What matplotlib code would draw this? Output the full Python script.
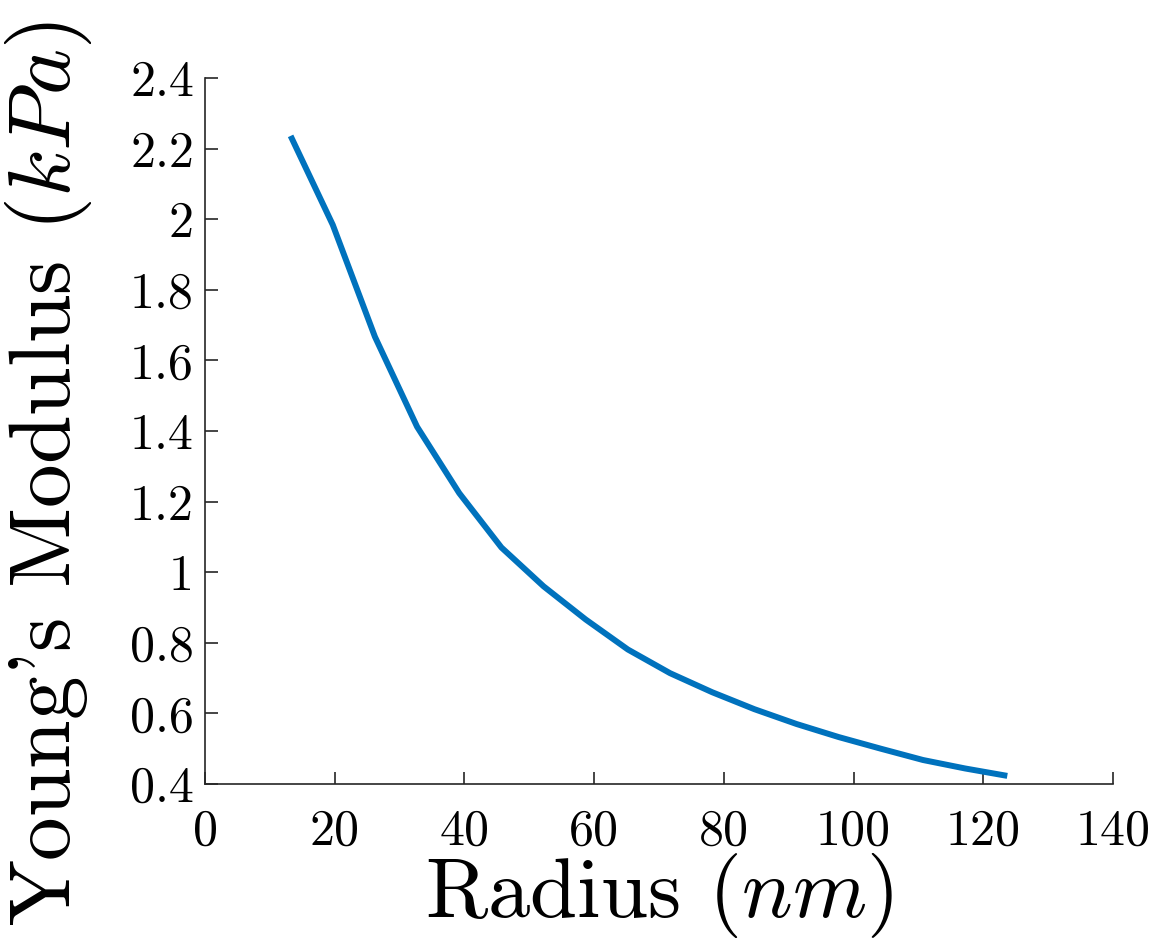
import numpy as np
import matplotlib
matplotlib.use("Agg")
from matplotlib import pyplot as plt
from matplotlib.ticker import FuncFormatter

# radius (nm) and Young's modulus (kPa)
radius = [13.2, 19.7, 26.2, 32.7, 39.2, 45.7, 52.2, 58.7, 65.2, 71.7,
          78.2, 84.7, 91.2, 97.7, 104.2, 110.7, 117.2, 123.7]
modulus = [2.236, 1.984, 1.667, 1.412, 1.224, 1.07, 0.96, 0.866, 0.781, 0.714,
           0.66, 0.612, 0.57, 0.533, 0.5, 0.468, 0.444, 0.423]

x_ticks = [0, 20, 40, 60, 80, 100, 120, 140]
y_ticks = [0.4, 0.6, 0.8, 1.0, 1.2, 1.4, 1.6, 1.8, 2.0, 2.2, 2.4]

plt.rcParams['font.family'] = 'serif'
plt.rcParams['font.serif'] = ['cmr10']
plt.rcParams['mathtext.fontset'] = 'cm'
plt.rcParams['axes.formatter.use_mathtext'] = True

fig = plt.figure(figsize=(11.64, 9.52), dpi=100)
ax = fig.add_axes([205/1164, 1 - 784/952, 908/1164, 706/952])

ax.plot(radius, modulus, color='#0072BD', lw=4.3, solid_capstyle='butt')

ax.set_xlim(0, 140)
ax.set_ylim(0.4, 2.4)
ax.set_xticks(x_ticks)
ax.set_yticks(y_ticks)
fmt = FuncFormatter(lambda v, pos: '{:g}'.format(round(v, 3)))
ax.xaxis.set_major_formatter(fmt)
ax.yaxis.set_major_formatter(fmt)

for s in ['top', 'right']:
    ax.spines[s].set_visible(False)
for s in ['left', 'bottom']:
    ax.spines[s].set_color('#262626')
    ax.spines[s].set_linewidth(1.2)

ax.tick_params(direction='in', length=9, width=1.2, color='#262626',
               labelsize=36, labelcolor='black')
ax.tick_params(axis='x', pad=18)
ax.tick_params(axis='y', pad=8)

ax.set_xlabel('Radius ($nm$)', fontsize=61)
ax.set_ylabel("Young's Modulus ($kPa$)", fontsize=63)
ax.xaxis.set_label_coords(0.5, -0.095)
ax.yaxis.set_label_coords(-0.122, 0.44)

fig.savefig('out.png', dpi=100)
